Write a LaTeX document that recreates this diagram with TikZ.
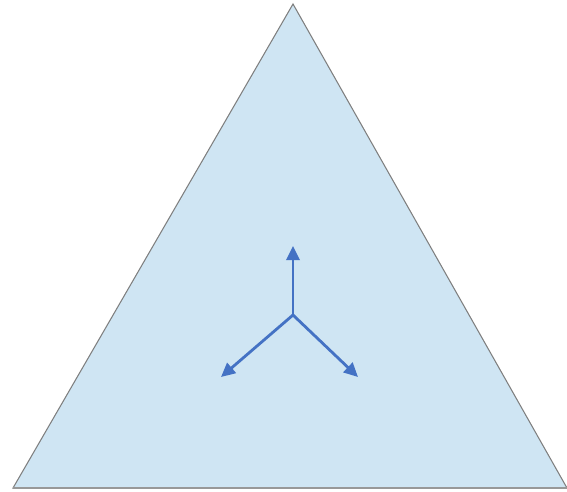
\documentclass[tikz,border=0pt]{standalone}
\usepackage{tikz}
\usetikzlibrary{arrows.meta, calc}
\definecolor{mylightblue}{HTML}{CFE5F3}
\definecolor{myblue}{HTML}{4472C4}
\definecolor{mygray}{HTML}{7F7F7F}
\tikzset{
	planeface/.style={draw=mygray, line width=0.6pt, fill=mylightblue, line join=miter}
}
\tikzset{
	axisarrow/.style={draw=myblue, line width=1.6pt, -{Triangle[length=8pt, width=7.5pt]}}
}

\begin{document}
\begin{tikzpicture}[x=0.02cm, y=-0.02cm]
\useasboundingbox (0,0) rectangle (567,491);

\coordinate (tA) at (293,4);
\coordinate (tL) at (13,488);
\coordinate (tR) at (567,488);

\draw[planeface] (tA) -- (tL) -- (tR) -- cycle;
\draw[mygray!80, line width=1.2pt] (tL) -- (tR);

\coordinate (mO) at (293,315);
\coordinate (mU) at (293,246);
\coordinate (mL) at (221,377);
\coordinate (mR) at (358,377);

\draw[axisarrow] (mO) -- (mU);
\draw[axisarrow] (mO) -- (mL);
\draw[axisarrow] (mO) -- (mR);

\end{tikzpicture}
\end{document}
